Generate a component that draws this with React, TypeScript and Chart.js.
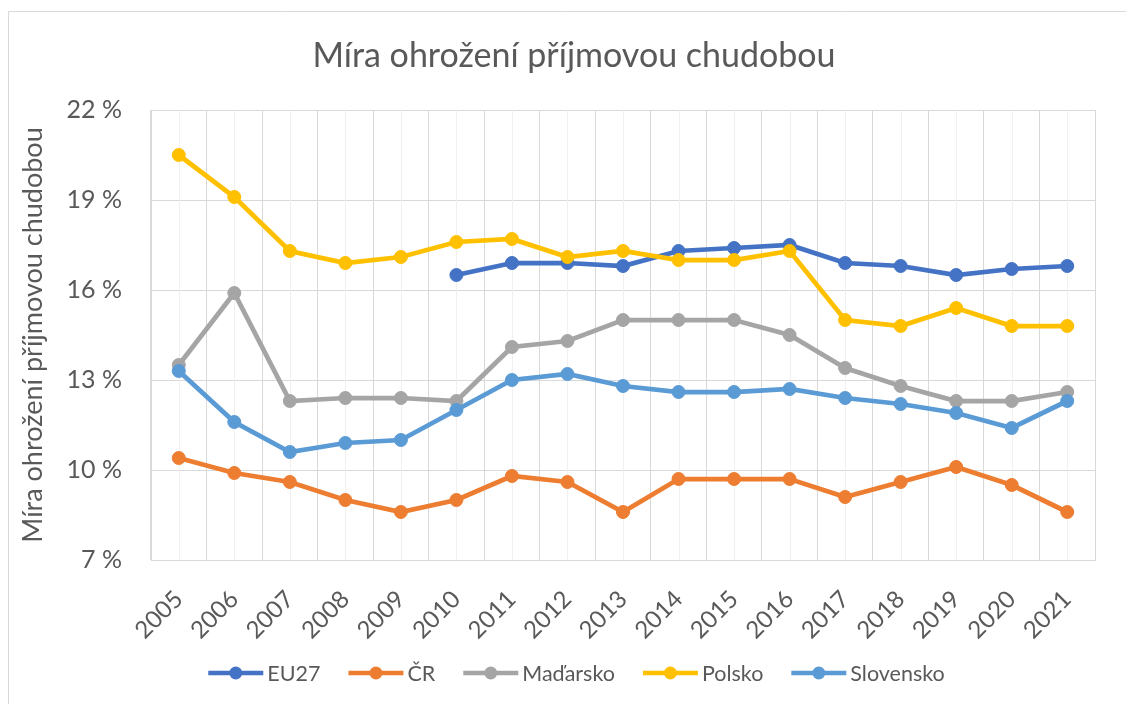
import { useEffect, useRef } from "react";
import { Chart, registerables } from "chart.js";

Chart.register(...registerables);

const years = ["2005", "2006", "2007", "2008", "2009", "2010", "2011", "2012", "2013", "2014", "2015", "2016", "2017", "2018", "2019", "2020", "2021"];
const eu27 = [null, null, null, null, null, 16.5, 16.9, 16.9, 16.8, 17.3, 17.4, 17.5, 16.9, 16.8, 16.5, 16.7, 16.8];
const cr = [10.4, 9.9, 9.6, 9.0, 8.6, 9.0, 9.8, 9.6, 8.6, 9.7, 9.7, 9.7, 9.1, 9.6, 10.1, 9.5, 8.6];
const madarsko = [13.5, 15.9, 12.3, 12.4, 12.4, 12.3, 14.1, 14.3, 15.0, 15.0, 15.0, 14.5, 13.4, 12.8, 12.3, 12.3, 12.6];
const polsko = [20.5, 19.1, 17.3, 16.9, 17.1, 17.6, 17.7, 17.1, 17.3, 17.0, 17.0, 17.3, 15.0, 14.8, 15.4, 14.8, 14.8];
const slovensko = [13.3, 11.6, 10.6, 10.9, 11.0, 12.0, 13.0, 13.2, 12.8, 12.6, 12.6, 12.7, 12.4, 12.2, 11.9, 11.4, 12.3];
const seriesNames = ["EU27", "ČR", "Maďarsko", "Polsko", "Slovensko"];
const seriesColors = ["#4472C4", "#ED7D31", "#A5A5A5", "#FFC000", "#5B9BD5"];
const yMin = 7;
const yMax = 22;
const yStep = 3;
const titleText = "Míra ohrožení příjmovou chudobou";
const yTitleText = "Míra ohrožení příjmovou chudobou";

const FONT = "Lato, 'Open Sans', sans-serif";
const TEXT = "#595959";
const GRID = "#D9D9D9";

const framePlugin = {
  id: "frame",
  beforeDraw(chart: any) {
    const ctx = chart.ctx;
    ctx.save();
    ctx.fillStyle = "#FFFFFF";
    ctx.fillRect(0, 0, chart.width, chart.height);
    ctx.strokeStyle = GRID;
    ctx.lineWidth = 1;
    ctx.beginPath();
    ctx.moveTo(8.5, chart.height);
    ctx.lineTo(8.5, 11.5);
    ctx.lineTo(chart.width, 11.5);
    ctx.stroke();
    ctx.fillStyle = TEXT;
    ctx.font = `34px ${FONT}`;
    ctx.textAlign = "center";
    ctx.textBaseline = "middle";
    ctx.fillText(titleText, 574, 56);
    ctx.restore();
  },
};

const minorGridPlugin = {
  id: "minorGrid",
  beforeDatasetsDraw(chart: any) {
    const ctx = chart.ctx;
    const xs = chart.scales.x;
    const area = chart.chartArea;
    ctx.save();
    ctx.strokeStyle = "#F0F0F0";
    ctx.lineWidth = 1;
    years.forEach((_, i) => {
      const x = Math.round(xs.getPixelForValue(i)) + 0.5;
      ctx.beginPath();
      ctx.moveTo(x, area.top);
      ctx.lineTo(x, area.bottom);
      ctx.stroke();
    });
    ctx.restore();
  },
};

const legendPlugin = {
  id: "customLegend",
  afterDraw(chart: any) {
    const ctx = chart.ctx;
    ctx.save();
    ctx.font = `21.5px ${FONT}`;
    const lineW = 55;
    const gapText = 4;
    const gapItem = 28;
    const items = chart.data.datasets.map((ds: any) => ({
      label: ds.label,
      color: ds.borderColor,
      w: ctx.measureText(ds.label).width,
    }));
    const total =
      items.reduce((s: number, it: any) => s + lineW + gapText + it.w, 0) + gapItem * (items.length - 1);
    let x = 576.5 - total / 2;
    const y = 673;
    items.forEach((it: any) => {
      ctx.strokeStyle = it.color;
      ctx.lineWidth = 4.5;
      ctx.beginPath();
      ctx.moveTo(x, y);
      ctx.lineTo(x + lineW, y);
      ctx.stroke();
      ctx.fillStyle = it.color;
      ctx.beginPath();
      ctx.arc(x + lineW / 2, y, 6.5, 0, Math.PI * 2);
      ctx.fill();
      ctx.fillStyle = TEXT;
      ctx.textBaseline = "middle";
      ctx.textAlign = "left";
      ctx.fillText(it.label, x + lineW + gapText, y + 1);
      x += lineW + gapText + it.w + gapItem;
    });
    ctx.restore();
  },
};

export default function App() {
  const ref = useRef<HTMLCanvasElement | null>(null);

  useEffect(() => {
    if (!ref.current) return;
    const seriesData = [eu27, cr, madarsko, polsko, slovensko];
    const chart = new Chart(ref.current, {
      type: "line",
      data: {
        labels: years,
        datasets: seriesData.map((d, i) => ({
          label: seriesNames[i],
          data: d,
          borderColor: seriesColors[i],
          backgroundColor: seriesColors[i],
          pointBackgroundColor: seriesColors[i],
          pointBorderColor: seriesColors[i],
          pointBorderWidth: 1,
          pointRadius: 6.5,
          pointHoverRadius: 6.5,
          borderWidth: 4.75,
          tension: 0,
          order: 10 - i,
        })),
      },
      options: {
        responsive: false,
        animation: false,
        devicePixelRatio: 1,
        layout: { padding: { left: 0, right: 31, top: 110, bottom: 0 } },
        plugins: {
          legend: { display: false },
          tooltip: { enabled: false },
          title: { display: false },
        },
        scales: {
          x: {
            offset: true,
            grid: { offset: true, color: GRID, drawTicks: false },
            border: { color: GRID },
            ticks: {
              color: TEXT,
              font: { family: FONT, size: 24 },
              maxRotation: 45,
              minRotation: 45,
              padding: 25,
              autoSkip: false,
            },
            afterFit: (scale: any) => {
              scale.height = 144;
            },
          },
          y: {
            min: yMin,
            max: yMax,
            grid: { color: GRID, drawTicks: false },
            border: { color: GRID },
            ticks: {
              stepSize: yStep,
              color: TEXT,
              font: { family: FONT, size: 25 },
              padding: 29,
              callback: (v: any) => `${v} %`,
            },
            title: {
              display: true,
              text: yTitleText,
              color: TEXT,
              font: { family: FONT, size: 27, weight: "normal" },
              padding: { top: 17, bottom: 0 },
            },
            afterFit: (scale: any) => {
              scale.width = 151;
            },
          },
        },
      },
      plugins: [framePlugin, minorGridPlugin, legendPlugin],
    });
    return () => chart.destroy();
  }, []);

  return (
    <div style={{ position: "absolute", left: 0, top: 0, width: 1126, height: 704 }}>
      <canvas ref={ref} width={1126} height={704} style={{ width: 1126, height: 704, display: "block" }} />
    </div>
  );
}
